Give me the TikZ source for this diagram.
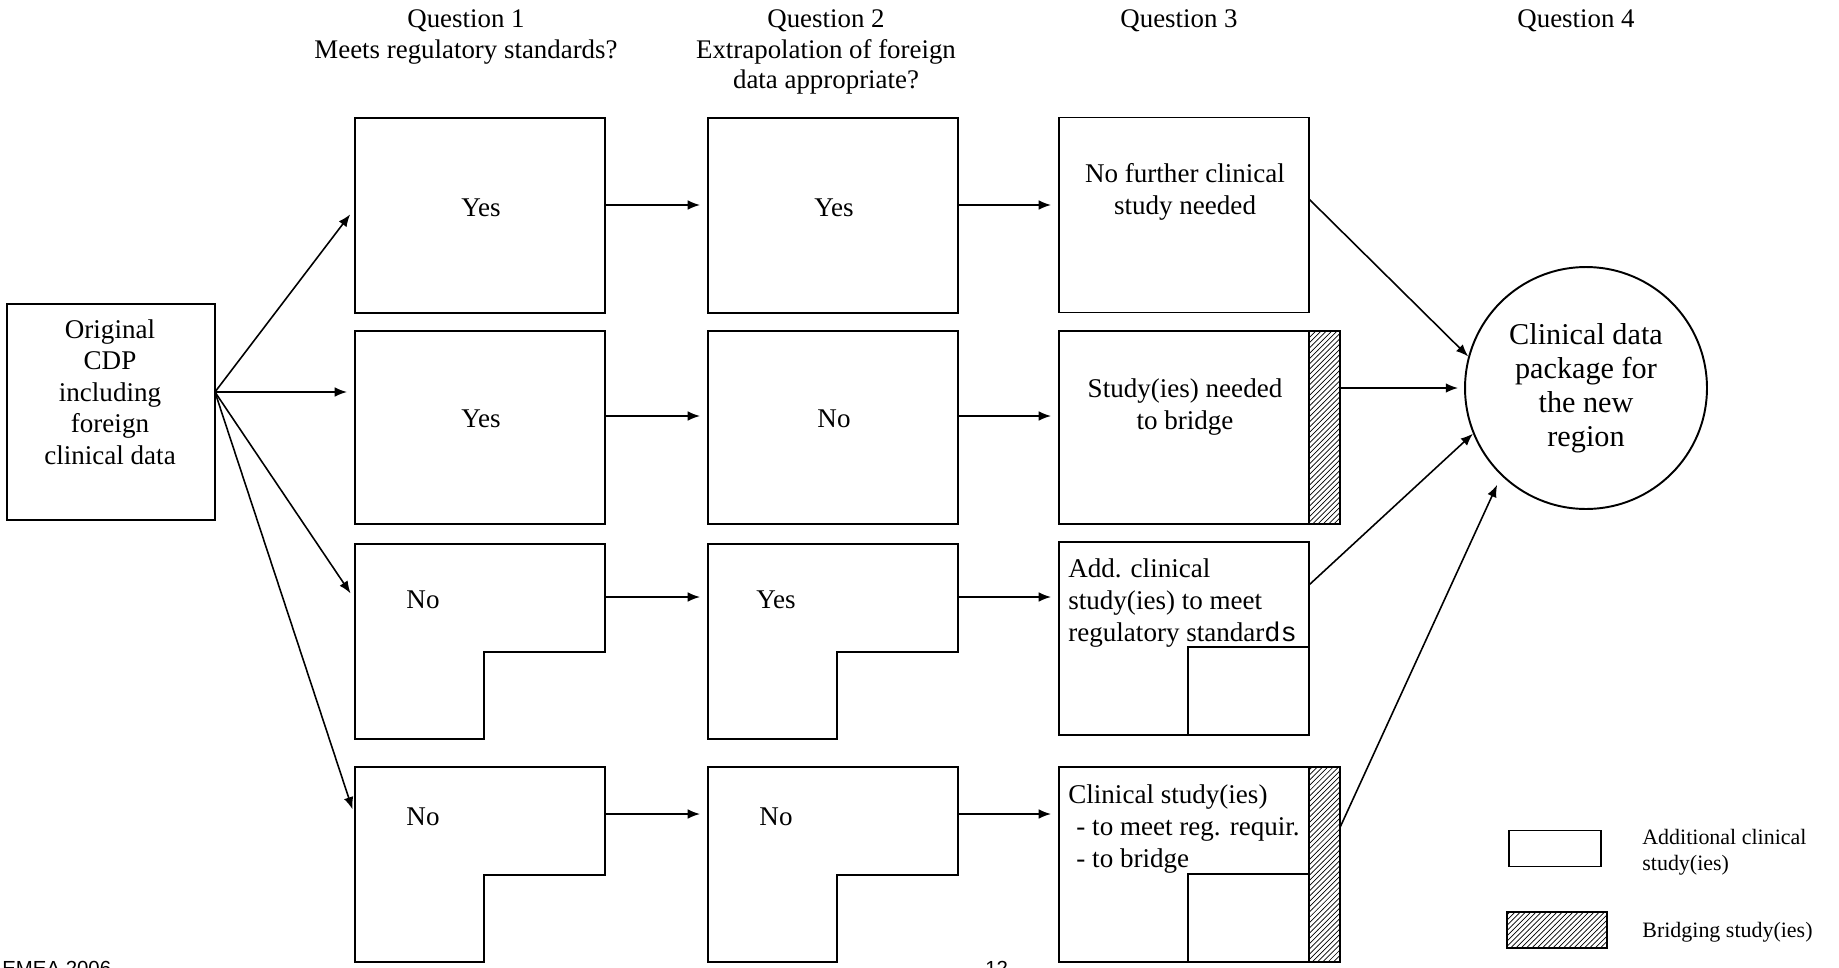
\documentclass[tikz,border=0pt]{standalone}
\usepackage{fontspec}
\setmainfont{Liberation Serif}
\newfontfamily\helvfont{Liberation Sans}
\newfontfamily\courfont{Liberation Mono}
\usetikzlibrary{positioning}
\usetikzlibrary{arrows.meta}
\usetikzlibrary{patterns}
\usetikzlibrary{calc}

\tikzset{
  box/.style={draw, line width=1.1pt, minimum width=5cm, minimum height=3.9cm, inner sep=0pt, outer sep=0pt},
  lbox/.style={minimum width=5cm, minimum height=3.9cm, inner sep=0pt, outer sep=0pt},
  hatchbox/.style={draw, line width=1.1pt, pattern=north east lines, minimum width=0.62cm, minimum height=3.9cm, inner sep=0pt, outer sep=0pt},
  lbl/.style={font=\fontsize{15.4}{18}\selectfont, align=center, inner sep=0pt},
  head/.style={font=\fontsize{15.3}{17.6}\selectfont, align=center, inner sep=0pt, anchor=north},
  arr/.style={-{Latex[length=7pt,width=5.5pt]}, line width=0.9pt, shorten >=0.16cm},
}

\begin{document}
\begin{tikzpicture}[x=0.02cm,y=-0.02cm]
\clip (0,0) rectangle (1839,967);

% headers
\node [head] (q1) at (466,9) {Question 1\\Meets regulatory standards?};
\node [head] (q2) at (826,9) {Question 2\\Extrapolation of foreign\\data appropriate?};
\node [head] (q3) at (1179,9) {Question 3};
\node [head] (q4) at (1576,9) {Question 4};

% original data package
\node [box, minimum width=4.16cm, minimum height=4.32cm] (cdp) at (111,412) {};
\node [lbl] (tcdp) at (110,392) {Original\\CDP\\including\\foreign\\clinical data};
\coordinate (fan) at (cdp.east |- tcdp);

% question 1 column
\node [box] (a1) at (480,215.5) {};
\node [box, minimum height=3.86cm] (a2) at (480,427.5) {};
\node [lbox] (a3) at (480,641.5) {};
\node [lbox] (a4) at (480,864.5) {};
\draw [line width=1.1pt] (a3.north west) -- (a3.north east) -- ++(0,108) -- ++(-121,0) |- (a3.south west) -- cycle;
\draw [line width=1.1pt] (a4.north west) -- (a4.north east) -- ++(0,108) -- ++(-121,0) |- (a4.south west) -- cycle;
\node [lbl] (ta1) at (481,208) {Yes};
\node [lbl] (ta2) at (481,419) {Yes};
\node [lbl] (ta3) at (423,600) {No};
\node [lbl] (ta4) at (423,817) {No};

% question 2 column
\node [box] (b1) at (833,215.5) {};
\node [box, minimum height=3.86cm] (b2) at (833,427.5) {};
\node [lbox] (b3) at (833,641.5) {};
\node [lbox] (b4) at (833,864.5) {};
\draw [line width=1.1pt] (b3.north west) -- (b3.north east) -- ++(0,108) -- ++(-121,0) |- (b3.south west) -- cycle;
\draw [line width=1.1pt] (b4.north west) -- (b4.north east) -- ++(0,108) -- ++(-121,0) |- (b4.south west) -- cycle;
\node [lbl] (tb1) at (834,208) {Yes};
\node [lbl] (tb2) at (834,419) {No};
\node [lbl] (tb3) at (776,600) {Yes};
\node [lbl] (tb4) at (776,817) {No};

% question 3 column
\node [box] (c1) at (1184,215) {};
\node [box, minimum height=3.86cm] (c2) at (1184,427.5) {};
\node [box, minimum height=3.86cm] (c3) at (1184,638.5) {};
\node [box] (c4) at (1184,864.5) {};
\node [hatchbox, minimum height=3.86cm, right=0pt of c2] (h2) {};
\node [hatchbox, right=0pt of c4] (h4) {};
\node [box, minimum width=2.42cm, minimum height=1.76cm, anchor=south east] (s3) at (c3.south east) {};
\node [box, minimum width=2.42cm, minimum height=1.76cm, anchor=south east] (s4) at (c4.south east) {};
\node [lbl] (tc1) at (1185,192) {No further clinical\\study needed};
\node [lbl] (tc2) at (1185,407) {Study(ies) needed\\to bridge};
\node [lbl, align=left, anchor=west] (tc3) at (1068,603) {Add. clinical\\study(ies) to meet\\regulatory standar{\courfont ds}};
\node [lbl, align=left, anchor=west] (tc4) at (1068,829) {Clinical study(ies)\\\hspace{0.3em}- to meet reg. requir.\\\hspace{0.3em}- to bridge};

% question 4
\node [draw, circle, line width=1.1pt, minimum size=4.84cm, inner sep=0pt, align=center,
       font=\fontsize{17.2}{19.4}\selectfont] (pkg) at (1586,388) {Clinical data\\package for\\the new\\region};

% arrows
\draw [arr] (fan) -- (a1.west |- ta1);
\draw [arr] (fan) -- (a2.west |- fan);
\draw [arr] (fan) -- (a3.west |- ta3);
\draw [arr] (fan) -- (a4.west |- ta4);
\foreach \r in {1,...,4} {
  \draw [arr] ($(a\r.east |- ta\r)+(0,-3)$) -- ($(b\r.west |- ta\r)+(0,-3)$);
  \draw [arr] ($(b\r.east |- ta\r)+(0,-3)$) -- ($(c\r.west |- ta\r)+(0,-3)$);
}
\draw [arr, shorten >=0pt] ([yshift=0.32cm]c1.east) -- (pkg.165);
\draw [arr, shorten >=0.12cm] (h2.east |- pkg.west) -- (pkg.west);
\draw [arr, shorten >=0pt] ([yshift=1.07cm]c3.east) -- (pkg.202);
\draw [arr, shorten >=0.2cm] ([yshift=0.74cm]h4.east) -- (pkg.226);

% legend
\node [box, minimum width=1.84cm, minimum height=0.72cm] (leg1) at (1555,848.5) {};
\node [hatchbox, minimum width=2cm, minimum height=0.72cm] (leg2) at (1557,930) {};
\node [lbl, align=left, anchor=west, font=\fontsize{12.5}{15}\selectfont] (tleg1) at (1642,852) {Additional clinical\\study(ies)};
\node [lbl, align=left, anchor=west, font=\fontsize{12.5}{15}\selectfont] (tleg2) at (1642,932) {Bridging study(ies)};

% page footer, cut by the edge
\node [anchor=north west, inner sep=0pt, font=\helvfont\fontsize{11.6}{14}\selectfont] (foot) at (2,961) {EMEA 2006};
\node [anchor=north west, inner sep=0pt, font=\helvfont\fontsize{11.6}{14}\selectfont] (pgno) at (985,961) {12};
\end{tikzpicture}
\end{document}
